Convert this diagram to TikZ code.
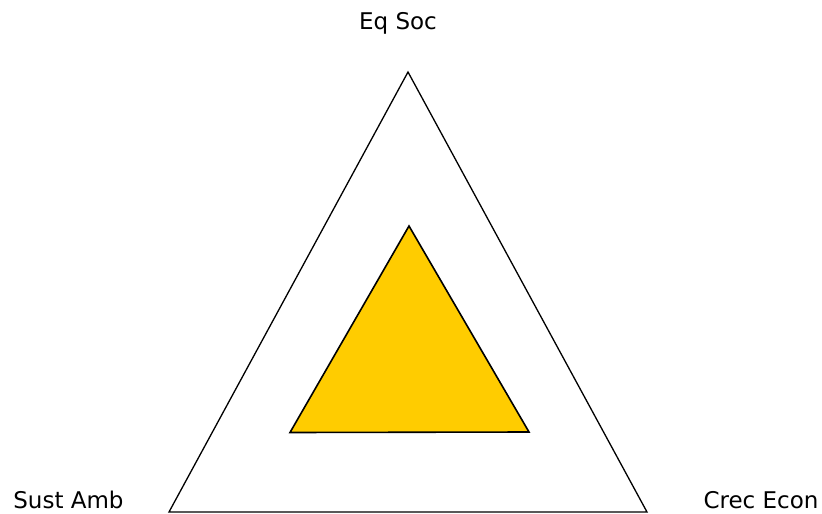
\documentclass[tikz,border=0pt]{standalone}
\usepackage{fontspec}
\setmainfont{DejaVu Sans}
\begin{document}
\begin{tikzpicture}[x=1pt,y=-1pt,
  lbl/.style={anchor=base,inner sep=0pt,font=\fontsize{23}{27}\selectfont},
  outertri/.style={draw=black,line width=1.3pt,line join=miter},
  innertri/.style={draw=black,line width=1.6pt,fill=gold,line join=miter}]
\definecolor{gold}{HTML}{FFCC00}
\useasboundingbox (0,0) rectangle (822,514);
\coordinate (oa) at (408,72);
\coordinate (ol) at (169,512);
\coordinate (or) at (647,512);
\coordinate (ia) at (409,226);
\coordinate (il) at (290,432.5);
\coordinate (ir) at (529,432);
\draw[outertri] (oa) -- (ol) -- (or) -- cycle;
\draw[innertri] (ia) -- (il) -- (ir) -- cycle;
\node[lbl] (eq) at (398,29) {Eq Soc};
\node[lbl] (sust) at (68.5,508) {Sust Amb};
\node[lbl] (crec) at (761,508) {Crec Econ};
\end{tikzpicture}
\end{document}
